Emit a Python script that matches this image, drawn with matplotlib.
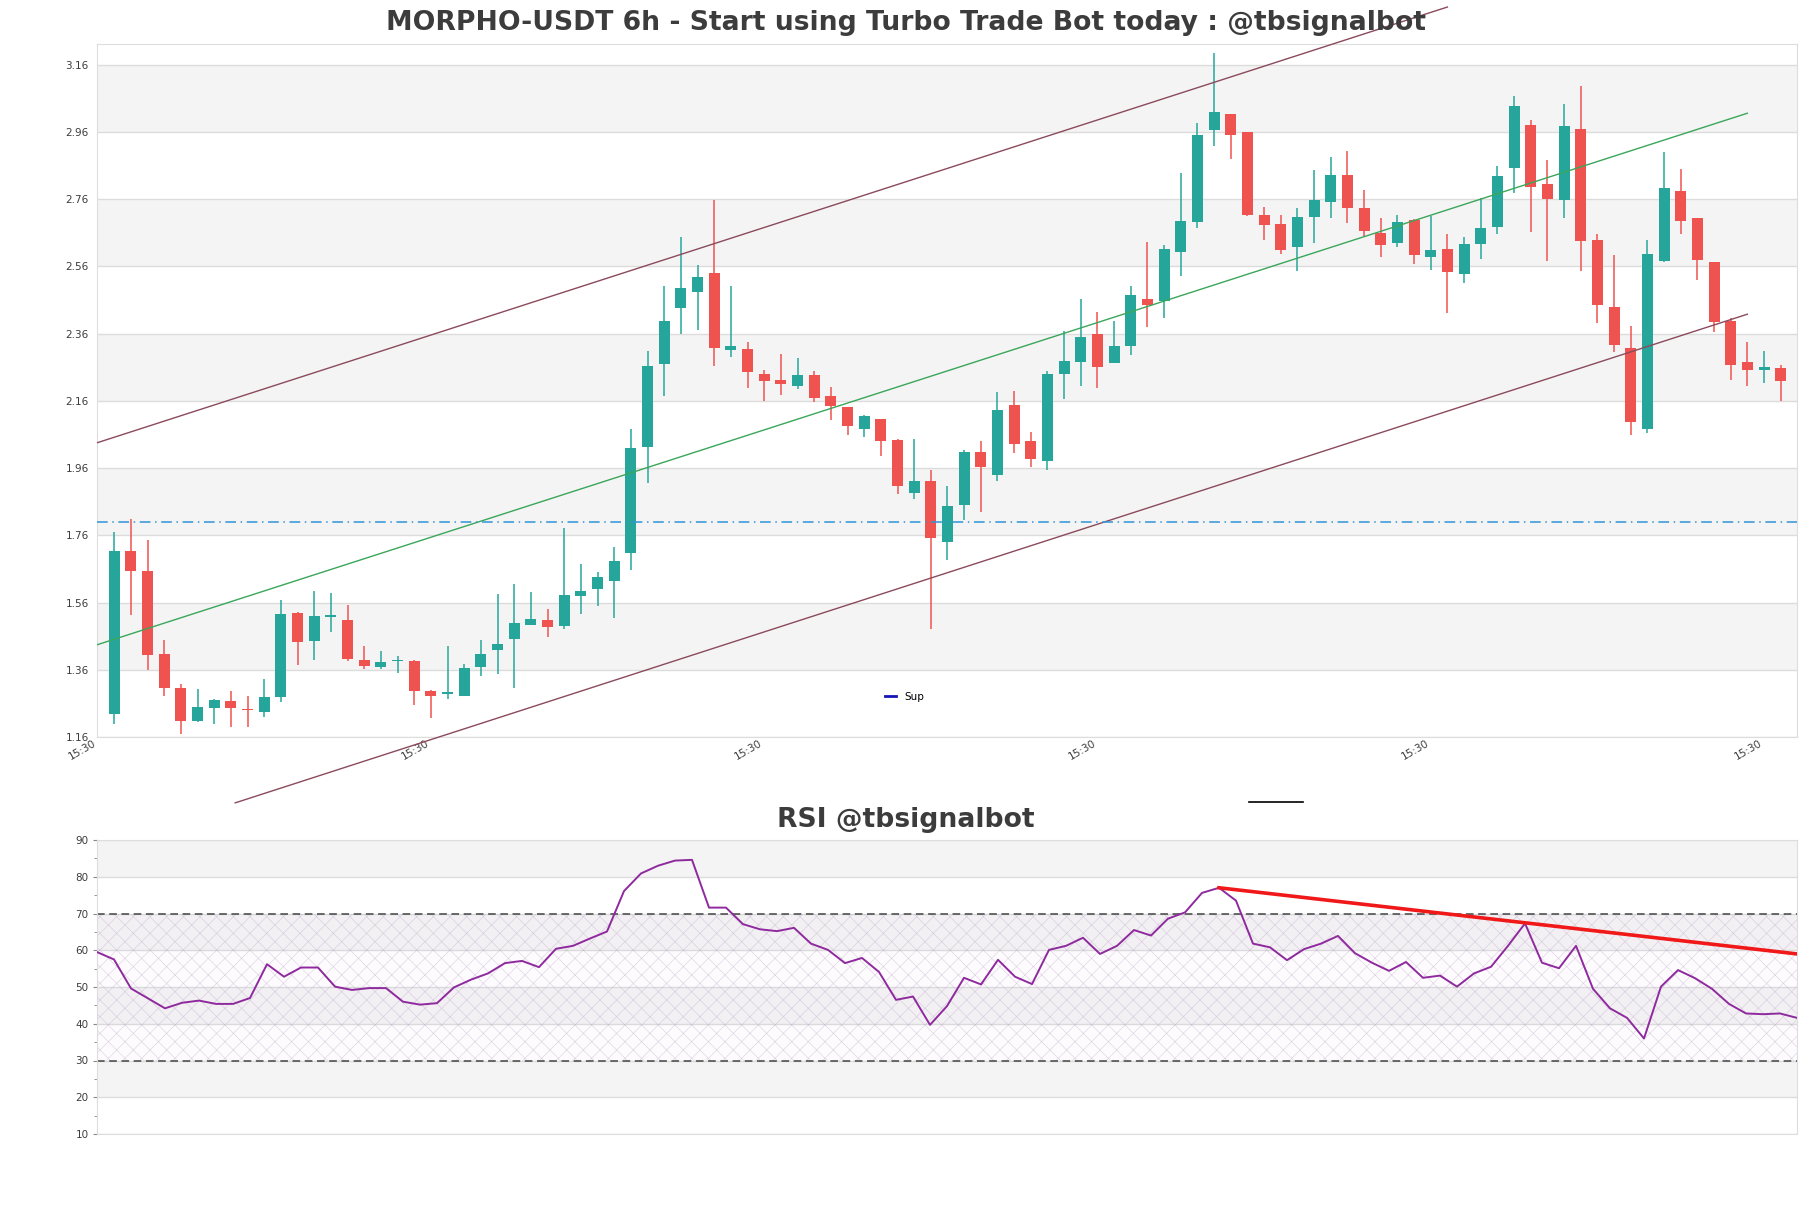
import numpy as np
import matplotlib
matplotlib.use("Agg")
import matplotlib.pyplot as plt
from matplotlib.lines import Line2D

# ---------------- data ----------------
opens = [1.227, 1.713, 1.653, 1.406, 1.307, 1.208, 1.247, 1.267, 1.242, 1.235,
         1.278, 1.530, 1.447, 1.518, 1.508, 1.388, 1.368, 1.385, 1.385, 1.298,
         1.287, 1.283, 1.369, 1.420, 1.451, 1.492, 1.507, 1.491, 1.581, 1.599,
         1.624, 1.708, 2.023, 2.269, 2.437, 2.483, 2.540, 2.312, 2.313, 2.241,
         2.221, 2.204, 2.236, 2.175, 2.141, 2.076, 2.107, 2.044, 1.887, 1.921,
         1.741, 1.850, 2.007, 1.940, 2.149, 2.041, 1.980, 2.240, 2.276, 2.359,
         2.272, 2.323, 2.462, 2.457, 2.603, 2.692, 2.967, 3.015, 2.959, 2.713,
         2.686, 2.617, 2.707, 2.751, 2.832, 2.734, 2.660, 2.630, 2.697, 2.588,
         2.611, 2.537, 2.627, 2.678, 2.853, 2.982, 2.805, 2.758, 2.968, 2.638,
         2.438, 2.316, 2.076, 2.577, 2.786, 2.703, 2.573, 2.399, 2.275, 2.252,
         2.257]
highs = [1.770, 1.810, 1.745, 1.449, 1.318, 1.303, 1.272, 1.297, 1.281, 1.334,
         1.567, 1.532, 1.595, 1.589, 1.553, 1.431, 1.415, 1.401, 1.388, 1.300,
         1.431, 1.377, 1.449, 1.585, 1.616, 1.591, 1.540, 1.783, 1.676, 1.652,
         1.725, 2.075, 2.309, 2.502, 2.647, 2.563, 2.758, 2.502, 2.335, 2.252,
         2.299, 2.289, 2.249, 2.201, 2.141, 2.118, 2.107, 2.048, 2.048, 1.954,
         1.907, 2.013, 2.040, 2.187, 2.191, 2.067, 2.248, 2.368, 2.462, 2.426,
         2.399, 2.502, 2.634, 2.623, 2.837, 2.986, 3.194, 3.015, 2.959, 2.737,
         2.714, 2.734, 2.848, 2.885, 2.905, 2.788, 2.703, 2.714, 2.701, 2.711,
         2.658, 2.647, 2.765, 2.859, 3.068, 2.995, 2.877, 3.042, 3.098, 2.658,
         2.593, 2.384, 2.639, 2.901, 2.851, 2.703, 2.573, 2.408, 2.335, 2.309,
         2.268]
lows = [1.200, 1.522, 1.358, 1.281, 1.169, 1.205, 1.200, 1.191, 1.189, 1.219,
        1.263, 1.374, 1.390, 1.471, 1.387, 1.361, 1.361, 1.350, 1.254, 1.216,
        1.274, 1.281, 1.342, 1.348, 1.307, 1.492, 1.459, 1.482, 1.527, 1.549,
        1.515, 1.658, 1.917, 2.175, 2.358, 2.371, 2.264, 2.292, 2.198, 2.161,
        2.178, 2.196, 2.158, 2.102, 2.060, 2.052, 1.997, 1.883, 1.867, 1.482,
        1.686, 1.806, 1.830, 1.921, 2.004, 1.964, 1.953, 2.165, 2.204, 2.198,
        2.272, 2.296, 2.379, 2.406, 2.533, 2.676, 2.919, 2.880, 2.710, 2.640,
        2.596, 2.546, 2.630, 2.703, 2.690, 2.651, 2.587, 2.617, 2.567, 2.551,
        2.422, 2.510, 2.583, 2.656, 2.778, 2.663, 2.576, 2.705, 2.546, 2.392,
        2.305, 2.058, 2.064, 2.573, 2.656, 2.520, 2.366, 2.222, 2.205, 2.212,
        2.161]
closes = [1.712, 1.653, 1.405, 1.307, 1.208, 1.250, 1.270, 1.245, 1.240, 1.278,
          1.526, 1.444, 1.520, 1.521, 1.392, 1.372, 1.384, 1.387, 1.298, 1.281,
          1.293, 1.365, 1.406, 1.437, 1.499, 1.511, 1.487, 1.583, 1.595, 1.637,
          1.684, 2.021, 2.265, 2.399, 2.497, 2.530, 2.317, 2.323, 2.245, 2.218,
          2.210, 2.238, 2.169, 2.145, 2.084, 2.114, 2.040, 1.906, 1.921, 1.753,
          1.847, 2.007, 1.964, 2.134, 2.033, 1.987, 2.241, 2.279, 2.351, 2.260,
          2.324, 2.475, 2.446, 2.613, 2.694, 2.950, 3.019, 2.951, 2.714, 2.683,
          2.609, 2.707, 2.759, 2.832, 2.733, 2.667, 2.624, 2.691, 2.593, 2.609,
          2.544, 2.627, 2.674, 2.828, 3.038, 2.797, 2.761, 2.978, 2.636, 2.446,
          2.325, 2.096, 2.596, 2.794, 2.694, 2.580, 2.396, 2.268, 2.252, 2.261,
          2.218]

rsi = [59.5, 57.5, 49.6, 46.9, 44.2, 45.7, 46.3, 45.4, 45.4, 47.0,
       56.2, 52.8, 55.3, 55.3, 50.1, 49.2, 49.7, 49.7, 46.0, 45.2,
       45.6, 49.9, 52.0, 53.7, 56.5, 57.1, 55.4, 60.4, 61.2, 63.2,
       65.1, 76.1, 80.9, 83.0, 84.4, 84.6, 71.6, 71.6, 67.1, 65.7,
       65.2, 66.1, 61.8, 60.1, 56.5, 57.9, 54.1, 46.5, 47.4, 39.7,
       44.8, 52.5, 50.7, 57.4, 52.8, 50.8, 60.1, 61.2, 63.4, 59.0,
       61.2, 65.5, 64.0, 68.6, 70.3, 75.6, 77.0, 73.5, 61.8, 60.8,
       57.3, 60.3, 61.8, 63.9, 59.2, 56.6, 54.4, 56.8, 52.5, 53.1,
       50.1, 53.7, 55.5, 61.2, 67.3, 56.6, 55.1, 61.2, 49.5, 44.2,
       41.6, 36.0, 50.1, 54.6, 52.4, 49.5, 45.4, 42.8, 42.6, 42.8,
       41.6]

# channel lines (x index, price)
upper_x = [-1.0, 80.0]
upper_y = [2.036, 3.332]
mid_x = [-1.0, 98.0]
mid_y = [1.435, 3.016]
lower_x = [7.25, 98.0]
lower_y = [0.964, 2.418]
support_level = 1.80

# RSI trend line (index, value)
rsi_trend_x = [66, 100]
rsi_trend_y = [77.0, 59.0]

price_ticks = [1.16, 1.36, 1.56, 1.76, 1.96, 2.16, 2.36, 2.56, 2.76, 2.96, 3.16]
xtick_pos = [-1, 19, 39, 59, 79, 99]
xtick_labels = ["15:30"] * 6
rsi_ticks = [10, 20, 30, 40, 50, 60, 70, 80, 90]

title_main = "MORPHO-USDT 6h - Start using Turbo Trade Bot today : @tbsignalbot"
title_rsi = "RSI @tbsignalbot"

# ---------------- style ----------------
UP = "#26a69a"
DOWN = "#ef5350"
BAND = "#f4f4f4"
GRID = "#dcdcdc"
SPINE = "#dddddd"
TXT = "#3c3c3c"

plt.rcParams["font.family"] = ["DejaVu Sans"]
plt.rcParams["hatch.linewidth"] = 0.4

fig = plt.figure(figsize=(18.11, 12.08), dpi=100)
ax = fig.add_axes([97 / 1811, 1 - 737 / 1208, 1700 / 1811, 693 / 1208])
ax2 = fig.add_axes([97 / 1811, 1 - 1134 / 1208, 1700 / 1811, 294 / 1208])

n = len(opens)
x = np.arange(n)
o = np.array(opens); h = np.array(highs); l = np.array(lows); c = np.array(closes)
up = c >= o
cols = np.where(up, UP, DOWN)

# bands
for k in range(len(price_ticks) - 1):
    if k % 2 == 1:
        ax.axhspan(price_ticks[k], price_ticks[k + 1], color=BAND, zorder=0, lw=0)
for t in price_ticks:
    ax.axhline(t, color=GRID, lw=1, zorder=0.5)

ax.vlines(x, l, h, colors=cols, lw=1.1, zorder=2)
body_h = np.maximum(np.abs(c - o), 0.004)
ax.bar(x, body_h, bottom=np.minimum(o, c), width=0.66, color=cols, lw=0, zorder=3)

ax.plot(upper_x, upper_y, color="#8b4a5c", lw=1, clip_on=False, zorder=4)
ax.plot(lower_x, lower_y, color="#8b4a5c", lw=1, clip_on=False, zorder=4)
ax.plot(mid_x, mid_y, color="#3aa65a", lw=1, zorder=4)
ax.axhline(support_level, color="#2f95d8", lw=1.1, ls=(0, (7, 3, 1, 3)), zorder=4)

ax.set_xlim(-1.04, 100.98)
ax.set_ylim(1.16, 3.222)
ax.set_yticks(price_ticks)
ax.set_yticklabels([f"{t:.2f}" for t in price_ticks])
ax.set_xticks(xtick_pos)
ax.set_xticklabels(xtick_labels, rotation=30, ha="right")
ax.tick_params(axis="y", length=0, labelsize=7.5, labelcolor=TXT, pad=6)
ax.tick_params(axis="x", length=0, labelsize=7.5, labelcolor=TXT, pad=1)
for s in ax.spines.values():
    s.set_color(SPINE)

sup_handle = Line2D([], [], color="#1515b5", lw=2)
ax.legend([sup_handle], ["Sup"], loc="center", bbox_to_anchor=(0.475, 0.058),
          frameon=False, fontsize=7.5, handlelength=1.0, handletextpad=0.8)

fig.suptitle(title_main, fontsize=19.2, fontweight="bold", color=TXT, y=1 - 23 / 1208, va="center")

# ---------------- RSI ----------------
xr = np.arange(len(rsi))
for k in range(len(rsi_ticks) - 1):
    if k % 2 == 1:
        ax2.axhspan(rsi_ticks[k], rsi_ticks[k + 1], color=BAND, zorder=0, lw=0)
for t in rsi_ticks:
    ax2.axhline(t, color=GRID, lw=1, zorder=0.5)
ax2.fill_between([xr[0], xr[-1]], 30, 70, facecolor=(0.6, 0.3, 0.7, 0.02),
                 edgecolor=(0.75, 0.66, 0.80, 0.55), hatch="xx", lw=0, zorder=1)
ax2.axhline(70, color="#444444", lw=1.1, ls=(0, (5, 3)), zorder=2)
ax2.axhline(30, color="#444444", lw=1.1, ls=(0, (5, 3)), zorder=2)
ax2.plot(xr, rsi, color="#8e2a9e", lw=1.4, zorder=3)
ax2.plot(rsi_trend_x, rsi_trend_y, color="#f01818", lw=2.6, zorder=4)
ax2.set_xlim(0, len(rsi) - 1)
ax2.set_ylim(10, 90)
ax2.set_yticks(rsi_ticks)
ax2.set_yticks(np.arange(15, 90, 10), minor=True)
ax2.set_xticks([])
ax2.tick_params(axis="y", which="major", length=3, color="#888888", labelsize=7.5, labelcolor=TXT, pad=3)
ax2.tick_params(axis="y", which="minor", length=2, color="#888888")
for s in ax2.spines.values():
    s.set_color(SPINE)

fig.text(0.5, 1 - 820 / 1208, title_rsi, ha="center", va="center",
         fontsize=19.2, fontweight="bold", color=TXT)

fig.legend([Line2D([], [], color="black", lw=1.2)], [""], loc="center",
           bbox_to_anchor=(1276 / 1811, 1 - 803 / 1208), frameon=False,
           handlelength=3.9, handletextpad=0, fontsize=10)

fig.savefig("out.png", dpi=100, facecolor="white")
